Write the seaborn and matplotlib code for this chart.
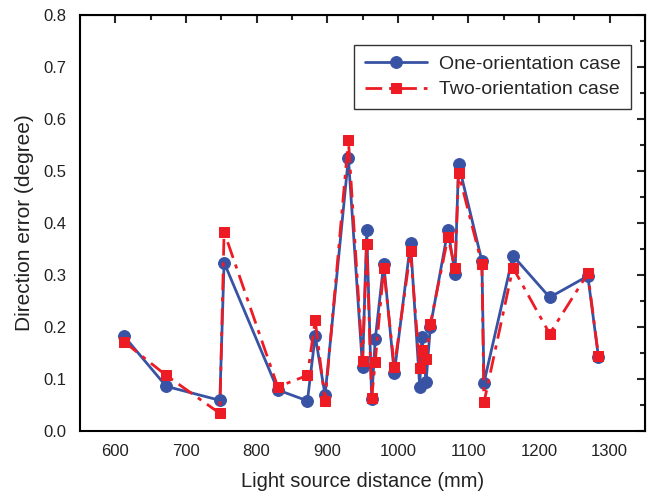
import matplotlib
matplotlib.use('Agg')
import matplotlib.pyplot as plt
import numpy as np
import pandas as pd
import seaborn as sns
from matplotlib.ticker import MultipleLocator

# Light source distance (mm)
distance = [612, 672, 748, 754, 830, 872, 883, 897, 930, 950, 956, 963, 968, 980, 995,
            1018, 1031, 1034, 1040, 1046, 1071, 1081, 1086, 1119, 1122, 1163, 1215, 1269, 1284]
# Direction error (degree)
one_orientation = [0.183, 0.086, 0.059, 0.324, 0.079, 0.058, 0.183, 0.069, 0.525, 0.123,
                   0.386, 0.062, 0.176, 0.322, 0.111, 0.362, 0.085, 0.181, 0.095, 0.200,
                   0.387, 0.302, 0.513, 0.327, 0.093, 0.337, 0.257, 0.298, 0.143]
two_orientation = [0.172, 0.107, 0.034, 0.383, 0.085, 0.107, 0.213, 0.058, 0.560, 0.135,
                   0.360, 0.063, 0.133, 0.313, 0.123, 0.346, 0.122, 0.156, 0.138, 0.206,
                   0.373, 0.313, 0.496, 0.321, 0.055, 0.314, 0.187, 0.303, 0.144]
labels = ['One-orientation case', 'Two-orientation case']

sns.set_style('white')
plt.rcParams['font.family'] = ['Liberation Sans', 'DejaVu Sans']

df = pd.DataFrame({'distance': distance, 'one': one_orientation, 'two': two_orientation})

fig = plt.figure(figsize=(6.52, 4.98), dpi=100)
ax = fig.add_axes([0.1227, 0.1345, 0.8666, 0.8355])

sns.lineplot(data=df, x='distance', y='one', ax=ax, color='#3953A4', lw=2,
             marker='o', markersize=8.5, markeredgecolor='#3953A4', label=labels[0])
sns.lineplot(data=df, x='distance', y='two', ax=ax, color='#ED1C24', lw=2,
             marker='s', markersize=7.5, markeredgecolor='#ED1C24', label=labels[1])
ax.lines[1].set_dashes([6, 2.5, 1.5, 2.5])

ax.set_xlim(550, 1350)
ax.set_ylim(0, 0.8)
ax.xaxis.set_major_locator(MultipleLocator(100))
ax.xaxis.set_minor_locator(MultipleLocator(50))
ax.yaxis.set_major_locator(MultipleLocator(0.1))
ax.yaxis.set_minor_locator(MultipleLocator(0.05))
ax.yaxis.set_major_formatter(matplotlib.ticker.FormatStrFormatter('%.1f'))
ax.set_xticks([600, 700, 800, 900, 1000, 1100, 1200, 1300])

for s in ax.spines.values():
    s.set_linewidth(1.5)
    s.set_color('black')
ax.tick_params(which='both', direction='out', width=1.5, colors='black',
               labelsize=12, labelcolor='#222222')
ax.tick_params(which='major', length=6)
ax.tick_params(which='minor', length=3.5)

# mirrored inward ticks on the top and right
axt = ax.secondary_xaxis('top')
axt.xaxis.set_major_locator(MultipleLocator(100))
axt.xaxis.set_minor_locator(MultipleLocator(50))
axt.tick_params(which='both', direction='in', width=1.5, labeltop=False)
axt.tick_params(which='major', length=6)
axt.tick_params(which='minor', length=3.5)
axr = ax.secondary_yaxis('right')
axr.yaxis.set_major_locator(MultipleLocator(0.1))
axr.yaxis.set_minor_locator(MultipleLocator(0.05))
axr.tick_params(which='both', direction='in', width=1.5, labelright=False)
axr.tick_params(which='major', length=6)
axr.tick_params(which='minor', length=3.5)

ax.set_xlabel('Light source distance (mm)', fontsize=14.5, color='#222222', labelpad=9)
ax.set_ylabel('Direction error (degree)', fontsize=15, color='#222222', labelpad=7)

leg = ax.legend(loc='upper right', bbox_to_anchor=(0.993, 0.952), fontsize=14,
                frameon=True, fancybox=False, edgecolor='black', handlelength=3.2,
                borderpad=0.55, labelspacing=0.4, handletextpad=0.6)
leg.get_frame().set_linewidth(1.0)

fig.savefig('out.png', dpi=100)
